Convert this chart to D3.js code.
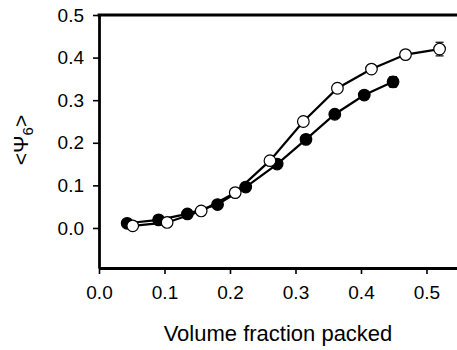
<!DOCTYPE html>
<html>
<head>
<meta charset="utf-8">
<script src="https://cdn.jsdelivr.net/npm/d3@7"></script>
<style>
  body { margin: 0; background: #fff; }
  text { font-family: "Liberation Sans", Arial, sans-serif; }
</style>
</head>
<body>
<svg width="457" height="350"></svg>
<script>
const openX = [0.0515, 0.104, 0.156, 0.208, 0.261, 0.312, 0.364, 0.416, 0.468, 0.520]
const openY = [0.005, 0.013, 0.040, 0.083, 0.158, 0.250, 0.328, 0.373, 0.407, 0.420]
const openErr = [0, 0, 0, 0, 0, 0, 0, 0, 0, 0.016]

const filledX = [0.043, 0.091, 0.135, 0.181, 0.224, 0.272, 0.316, 0.360, 0.405, 0.449]
const filledY = [0.011, 0.019, 0.033, 0.055, 0.096, 0.150, 0.208, 0.267, 0.312, 0.343]
const filledErr = [0, 0, 0, 0, 0, 0, 0, 0, 0, 0.012]

const xTicks = [0.0, 0.1, 0.2, 0.3, 0.4, 0.5]
const yTicks = [0.0, 0.1, 0.2, 0.3, 0.4, 0.5]

const svg = d3.select('svg')
const width = +svg.attr('width')

const plotLeft = 99, plotTop = 15, plotBottom = 268

const x = d3.scaleLinear().domain([0, 0.5466]).range([plotLeft, width])
const y = d3.scaleLinear().domain([-0.094, 0.5]).range([plotBottom, plotTop])

svg.append('g')
  .attr('transform', `translate(0, ${plotBottom})`)
  .call(d3.axisBottom(x).tickValues(xTicks).tickFormat(d3.format('.1f')).tickSize(6).tickSizeOuter(0).tickPadding(12))

svg.append('g')
  .attr('transform', `translate(${plotLeft}, 0)`)
  .call(d3.axisLeft(y).tickValues(yTicks).tickFormat(d3.format('.1f')).tickSize(6).tickSizeOuter(0).tickPadding(9))

svg.selectAll('.domain').attr('stroke', '#000').attr('stroke-width', 2.8)
svg.selectAll('.tick line').attr('stroke', '#000').attr('stroke-width', 1.6)
svg.selectAll('.tick text').attr('font-size', 19).attr('fill', '#000')
  .attr('font-family', '"Liberation Sans", Arial, sans-serif')

// top frame line
svg.append('line')
  .attr('x1', plotLeft - 1.4).attr('x2', width)
  .attr('y1', y(0.5)).attr('y2', y(0.5))
  .attr('stroke', '#000').attr('stroke-width', 2.8)

const line = d3.line().x(d => x(d[0])).y(d => y(d[1]))

function series(xs, ys, errs, fill) {
  const pts = xs.map((v, i) => [v, ys[i], errs[i]])
  svg.append('path')
    .attr('d', line(pts))
    .attr('fill', 'none')
    .attr('stroke', '#000')
    .attr('stroke-width', 2.2)

  const eb = svg.append('g')
  pts.filter(d => d[2] > 0).forEach(d => {
    eb.append('line')
      .attr('x1', x(d[0])).attr('x2', x(d[0]))
      .attr('y1', y(d[1] - d[2])).attr('y2', y(d[1] + d[2]))
      .attr('stroke', '#000').attr('stroke-width', 1.2)
    ;[d[1] - d[2], d[1] + d[2]].forEach(v => {
      eb.append('line')
        .attr('x1', x(d[0]) - 4).attr('x2', x(d[0]) + 4)
        .attr('y1', y(v)).attr('y2', y(v))
        .attr('stroke', '#000').attr('stroke-width', 1.2)
    })
  })

  svg.append('g').selectAll('circle')
    .data(pts)
    .join('circle')
    .attr('cx', d => x(d[0]))
    .attr('cy', d => y(d[1]))
    .attr('r', 5.8)
    .attr('fill', fill)
    .attr('stroke', '#000')
    .attr('stroke-width', 1.2)
}

series(filledX, filledY, filledErr, '#000')
series(openX, openY, openErr, '#fff')

svg.append('text')
  .attr('x', (plotLeft + width) / 2)
  .attr('y', 341)
  .attr('text-anchor', 'middle')
  .attr('font-size', 22)
  .text('Volume fraction packed')

const yl = svg.append('text')
  .attr('transform', `translate(28, 140) rotate(-90)`)
  .attr('text-anchor', 'middle')
  .attr('font-size', 21)
yl.append('tspan').text('<Ψ')
yl.append('tspan').text('6').attr('font-size', 15).attr('dy', 5)
yl.append('tspan').text('>').attr('dy', -5)
</script>
</body>
</html>
